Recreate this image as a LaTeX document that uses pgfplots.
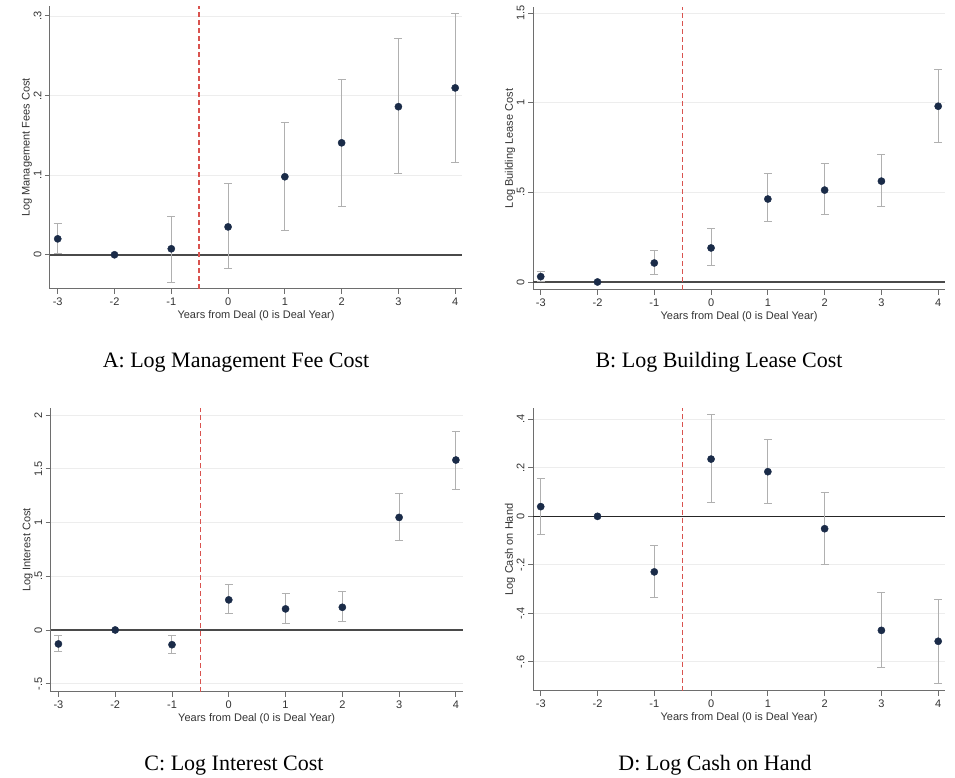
\documentclass[border=0pt]{standalone}
\usepackage{fontspec}
\setmainfont{Liberation Serif}
\setsansfont{Liberation Sans}
\usepackage{pgfplots}
\pgfplotsset{compat=1.18}
\usepackage{pgfplotstable}

\definecolor{navy}{HTML}{1A2B48}
\definecolor{errgray}{HTML}{B0B0B0}
\definecolor{gridgray}{HTML}{EDEDED}
\definecolor{axgray}{HTML}{6E6E6E}
\definecolor{zerogray}{HTML}{4A4A4A}
\definecolor{dashred}{HTML}{D9534F}

\pgfplotstableread{
x y hi lo
-3 0.020 0.039 0.002
-1 0.0075 0.048 -0.035
0 0.035 0.0895 -0.017
1 0.098 0.1665 0.0305
2 0.1406 0.2205 0.0607
3 0.186 0.272 0.102
4 0.2096 0.303 0.116
}\dataA
\pgfplotstableread{
x y hi lo
-3 0.030 0.058 0.000
-1 0.106 0.175 0.043
0 0.190 0.296 0.091
1 0.463 0.604 0.336
2 0.513 0.660 0.374
3 0.563 0.712 0.422
4 0.981 1.186 0.779
}\dataB
\pgfplotstableread{
x y hi lo
-3 -0.130 -0.053 -0.202
-1 -0.137 -0.047 -0.217
0 0.280 0.419 0.155
1 0.196 0.335 0.062
2 0.211 0.354 0.075
3 1.047 1.270 0.832
4 1.581 1.851 1.311
}\dataC
\pgfplotstableread{
x y hi lo
-3 0.040 0.154 -0.073
-1 -0.229 -0.122 -0.335
0 0.236 0.419 0.058
1 0.184 0.317 0.051
2 -0.051 0.099 -0.199
3 -0.470 -0.313 -0.625
4 -0.515 -0.341 -0.688
}\dataD

\pgfplotsset{
  panel/.style={
    scale only axis, width=412pt, height=283pt, anchor=south west,
    xmin=-3.136, xmax=4.12,
    axis x line*=bottom, axis y line*=left,
    axis line style={draw=axgray, line width=1pt, -},
    tick align=outside, major tick length=5pt,
    tick style={draw=axgray, line width=0.9pt},
    xtick={-3,-2,-1,0,1,2,3,4},
    xticklabels={-3,-2,-1,0,1,2,3,4},
    tick label style={font=\fontsize{11}{13}\selectfont\sffamily, text=black!80},
    yticklabel style={rotate=90, anchor=south},
    ymajorgrids,
    grid style={draw=gridgray, line width=0.8pt},
    xlabel={Years from Deal (0 is Deal Year)},
    label style={font=\fontsize{11}{13}\selectfont\sffamily, text=black!80},
    xlabel style={at={(axis description cs:0.5,-0.0954)}, anchor=center},
    ylabel style={at={(axis description cs:-0.0558,0.5)}, anchor=center},
    clip=false,
  },
  pts/.style={only marks, mark=*, mark size=3.6pt, mark options={fill=navy, draw=navy},
    error bars/.cd, y dir=both, y explicit,
    error bar style={draw=errgray, line width=1pt},
    error mark options={draw=errgray, line width=1pt, mark size=4pt, rotate=90}},
  pt/.style={only marks, mark=*, mark size=3.6pt, mark options={fill=navy, draw=navy}},
  zeroline/.style={draw=zerogray, line width=1.6pt, mark=none},
  dealline/.style={draw=dashred, line width=1.3pt, dash pattern=on 5pt off 3pt, mark=none},
}

\begin{document}
\begin{tikzpicture}
\useasboundingbox (0,0) rectangle (955pt,778pt);

% Panel A
\begin{axis}[panel, at={(50pt,489pt)},
  ymin=-0.043, ymax=0.3125,
  ytick={0,0.1,0.2,0.3}, yticklabels={0,.1,.2,.3},
  ylabel={Log Management Fees Cost}]
\addplot[zeroline] coordinates {(-3.136,0) (4.12,0)};
\addplot[dealline] coordinates {(-0.51,-0.043) (-0.51,0.3125)};
\addplot[pts] table[x=x, y=y, y error plus expr=\thisrow{hi}-\thisrow{y}, y error minus expr=\thisrow{y}-\thisrow{lo}] {\dataA};
\addplot[pt] coordinates {(-2,0)};
\end{axis}

% Panel B
\begin{axis}[panel, at={(533pt,488pt)},
  ymin=-0.0447, ymax=1.535,
  ytick={0,0.5,1,1.5}, yticklabels={0,.5,1,1.5},
  ylabel={Log Building Lease Cost}]
\addplot[zeroline] coordinates {(-3.136,0) (4.12,0)};
\addplot[dealline] coordinates {(-0.5,-0.0447) (-0.5,1.535)};
\addplot[pts] table[x=x, y=y, y error plus expr=\thisrow{hi}-\thisrow{y}, y error minus expr=\thisrow{y}-\thisrow{lo}] {\dataB};
\addplot[pt] coordinates {(-2,0)};
\end{axis}

% Panel C
\begin{axis}[panel, at={(50.7pt,86pt)}, height=284pt,
  ymin=-0.577, ymax=2.065,
  ytick={-0.5,0,0.5,1,1.5,2}, yticklabels={-.5,0,.5,1,1.5,2},
  ylabel={Log Interest Cost}]
\addplot[zeroline] coordinates {(-3.136,0) (4.12,0)};
\addplot[dealline] coordinates {(-0.5,-0.577) (-0.5,2.065)};
\addplot[pts] table[x=x, y=y, y error plus expr=\thisrow{hi}-\thisrow{y}, y error minus expr=\thisrow{y}-\thisrow{lo}] {\dataC};
\addplot[pt] coordinates {(-2,0)};
\end{axis}

% Panel D
\begin{axis}[panel, at={(533pt,87pt)},
  ymin=-0.720, ymax=0.4466,
  ytick={-0.6,-0.4,-0.2,0,0.2,0.4}, yticklabels={-.6,-.4,-.2,0,.2,.4},
  ylabel={Log Cash on Hand}]
\addplot[draw=black!85, line width=1.1pt, mark=none] coordinates {(-3.136,0) (4.12,0)};
\addplot[dealline] coordinates {(-0.5,-0.720) (-0.5,0.4466)};
\addplot[pts] table[x=x, y=y, y error plus expr=\thisrow{hi}-\thisrow{y}, y error minus expr=\thisrow{y}-\thisrow{lo}] {\dataD};
\addplot[pt] coordinates {(-2,0)};
\end{axis}

\node[anchor=base, font=\fontsize{22}{26}\selectfont] at (236pt,410pt) {A: Log Management Fee Cost};
\node[anchor=base, font=\fontsize{22}{26}\selectfont] at (719pt,410pt) {B: Log Building Lease Cost};
\node[anchor=base, font=\fontsize{22}{26}\selectfont] at (234pt,7pt) {C: Log Interest Cost};
\node[anchor=base, font=\fontsize{22}{26}\selectfont] at (715pt,7pt) {D: Log Cash on Hand};
\end{tikzpicture}
\end{document}
